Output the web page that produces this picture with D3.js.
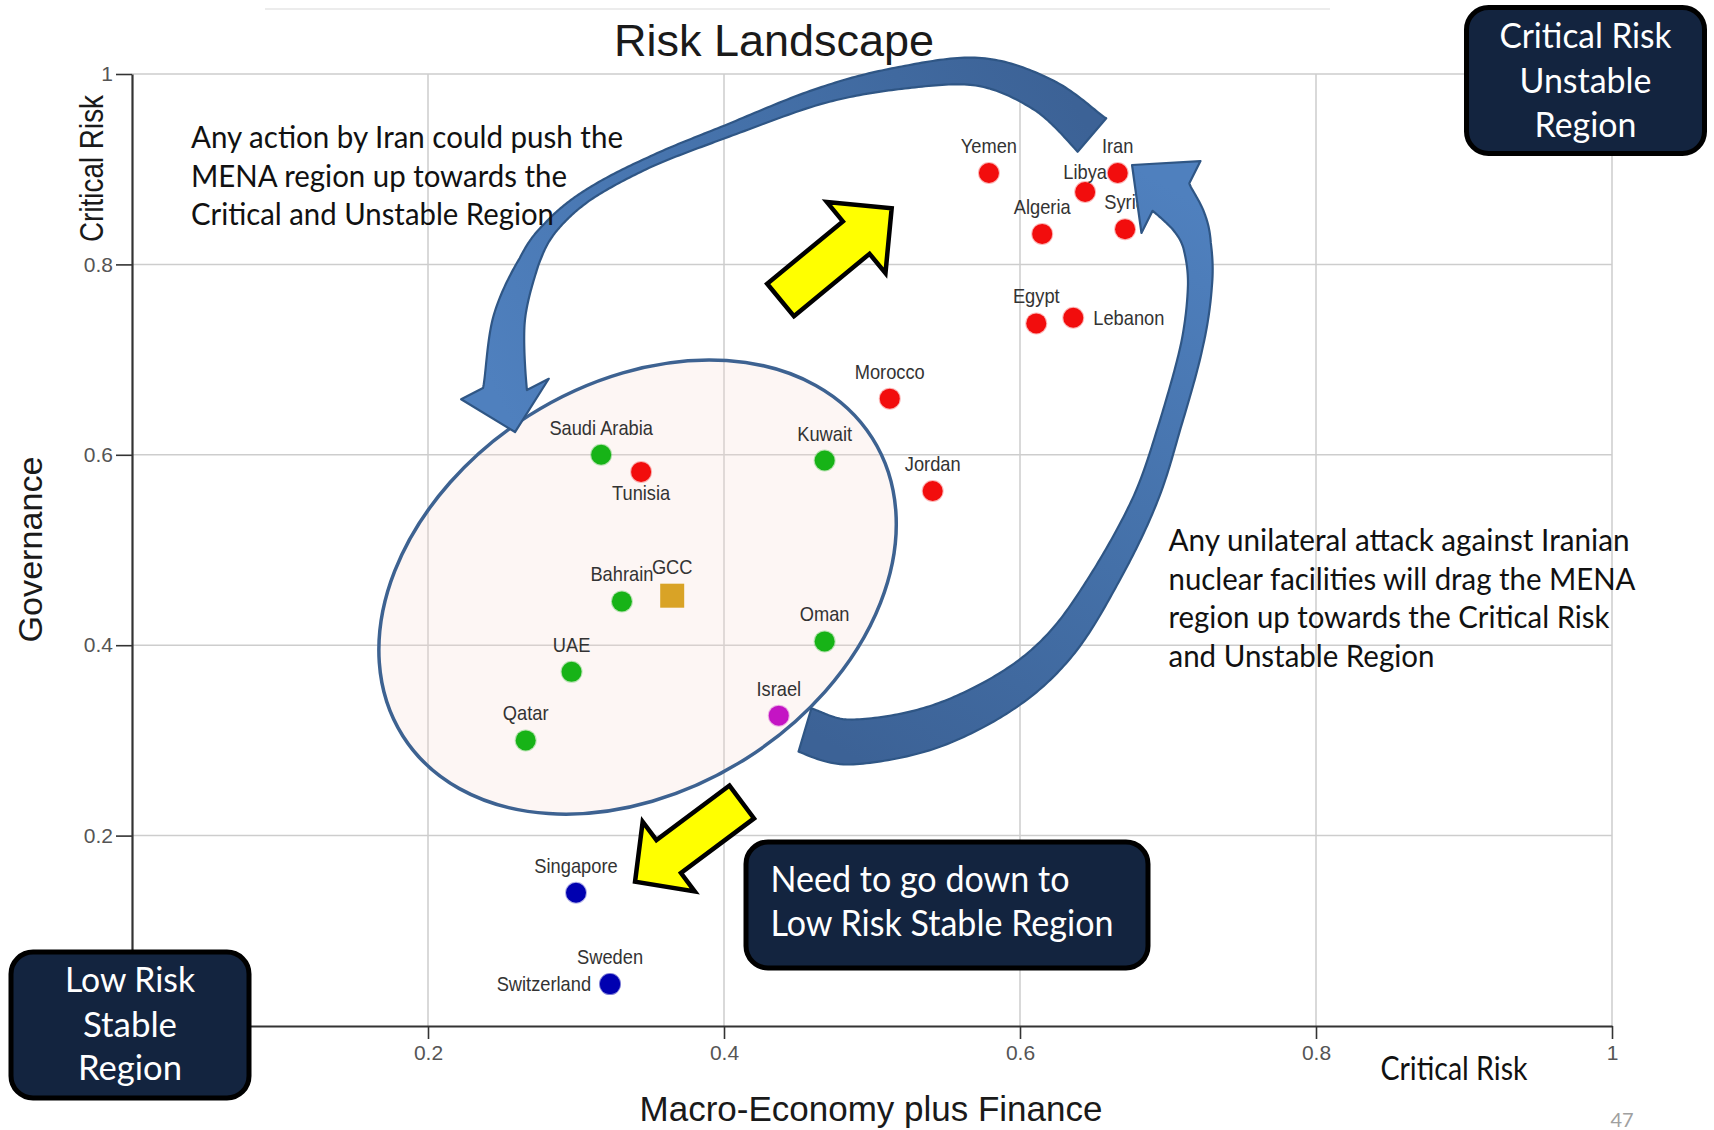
<!DOCTYPE html>
<html>
<head>
<meta charset="utf-8">
<script src="https://cdn.jsdelivr.net/npm/d3@7"></script>
<style>
  html, body { margin: 0; padding: 0; background: #ffffff; }
  svg { display: block; }
</style>
</head>
<body>
<svg id="chart" width="1714" height="1130"></svg>
<script>
// ---- Country scores: macro-economy plus finance (x) vs governance (y) ----
const countries = ["Yemen", "Iran", "Libya", "Algeria", "Syria", "Egypt", "Lebanon", "Morocco", "Jordan",
  "Tunisia", "Saudi Arabia", "Kuwait", "Bahrain", "GCC", "Oman", "UAE", "Qatar", "Israel",
  "Singapore", "Sweden", "Switzerland"];
const macroFinance = [0.579, 0.666, 0.644, 0.615, 0.671, 0.611, 0.636, 0.512, 0.541,
  0.344, 0.317, 0.468, 0.331, 0.365, 0.468, 0.297, 0.266, 0.437,
  0.300, 0.323, 0.323];
const governance = [0.896, 0.896, 0.876, 0.832, 0.837, 0.738, 0.744, 0.659, 0.562,
  0.582, 0.600, 0.594, 0.446, 0.452, 0.404, 0.372, 0.300, 0.326,
  0.140, 0.044, 0.044];
const groups = ["MENA", "MENA", "MENA", "MENA", "MENA", "MENA", "MENA", "MENA", "MENA",
  "MENA", "GCC", "GCC", "GCC", "GCC average", "GCC", "GCC", "GCC", "Israel",
  "Benchmark", "Benchmark", "Benchmark"];

const xTicks = [0.2, 0.4, 0.6, 0.8, 1];
const xTickLabels = ["0.2", "0.4", "0.6", "0.8", "1"];
const yTicks = [0.2, 0.4, 0.6, 0.8, 1];
const yTickLabels = ["0.2", "0.4", "0.6", "0.8", "1"];

// ---- Annotation geometry, in data units ----
const clusterCenter = [0.3416, 0.4611];            // GCC cluster ellipse
const escalationArc = [[0.6486, 0.9359], [0.6169, 0.9769], [0.5730, 1.0021], [0.5189, 0.9958],
  [0.4649, 0.9769], [0.4020, 0.9401], [0.3500, 0.9076], [0.3081, 0.8729], [0.2824, 0.8382],
  [0.2682, 0.8025], [0.2547, 0.7416], [0.2520, 0.6691]];
const escalationWidths = [44, 35, 28, 22, 16, 12, 10, 11, 14, 20, 32, 44];
const escalationTip = [0.2588, 0.6239];
const attackArc = [[0.4547, 0.3109], [0.4851, 0.2983], [0.5392, 0.3130], [0.5899, 0.3508],
  [0.6270, 0.4002], [0.6574, 0.4706], [0.6845, 0.5525], [0.7014, 0.6313], [0.7162, 0.7153],
  [0.7216, 0.7784], [0.7196, 0.8204], [0.7135, 0.8466], [0.7020, 0.8708]];
const attackWidths = [45, 45, 42, 38, 33, 28, 24, 22, 22, 24, 28, 36, 46];
const attackTip = [0.6757, 0.9044];
const upArrow = { tail: [0.4382, 0.7626], tip: [0.5133, 0.8589] };
const downArrow = { tail: [0.4120, 0.2353], tip: [0.3399, 0.1516] };

// ---- Scales ----
const x = d3.scaleLinear().domain([0, 1]).range([132, 1612]);
const y = d3.scaleLinear().domain([0, 1]).range([1026, 74]);

const groupColor = {
  "MENA": "#f20d0d",
  "GCC": "#17b317",
  "GCC average": "#d9a326",
  "Israel": "#c414c4",
  "Benchmark": "#0000b0"
};

const svg = d3.select("#chart");
const defs = svg.append("defs");

svg.append("rect").attr("width", 1714).attr("height", 1130).attr("fill", "#ffffff");

// faint rule left at the top of the slide
svg.append("line").attr("x1", 265).attr("x2", 1330).attr("y1", 9).attr("y2", 9)
  .attr("stroke", "#ececec").attr("stroke-width", 2);

// ---- Gridlines ----
const grid = svg.append("g").attr("stroke", "#cdcdcd").attr("stroke-width", 1.5);
grid.selectAll("line.v").data(xTicks).join("line").attr("class", "v")
  .attr("x1", d => x(d)).attr("x2", d => x(d)).attr("y1", y(0)).attr("y2", y(1));
grid.selectAll("line.h").data(yTicks).join("line").attr("class", "h")
  .attr("x1", x(0)).attr("x2", x(1)).attr("y1", d => y(d)).attr("y2", d => y(d));

// ---- Axes ----
const fontSans = "'Liberation Sans', Arial, sans-serif";
const xAxis = svg.append("g").attr("transform", `translate(0,${y(0)})`)
  .call(d3.axisBottom(x).tickValues(xTicks).tickSize(13).tickSizeOuter(0).tickPadding(6)
    .tickFormat((d, i) => xTickLabels[i]));
const yAxis = svg.append("g").attr("transform", `translate(${x(0)},0)`)
  .call(d3.axisLeft(y).tickValues(yTicks).tickSize(16).tickSizeOuter(0).tickPadding(3)
    .tickFormat((d, i) => yTickLabels[i]));
[xAxis, yAxis].forEach(a => {
  a.select(".domain").attr("stroke", "#333").attr("stroke-width", 2.2);
  a.selectAll(".tick line").attr("stroke", "#333").attr("stroke-width", 1.6);
  a.selectAll(".tick text").attr("fill", "#555").style("font-family", fontSans).style("font-size", "21px");
});

// ---- GCC cluster ellipse ----
svg.append("ellipse")
  .attr("transform", `translate(${x(clusterCenter[0])},${y(clusterCenter[1])}) rotate(-32.4)`)
  .attr("rx", 278).attr("ry", 203)
  .attr("fill", "#f6ddd4").attr("fill-opacity", 0.25)
  .attr("stroke", "#3d6291").attr("stroke-width", 3.5);

// ---- Points ----
const rows = countries.map((name, i) => ({
  name, mx: macroFinance[i], gv: governance[i], group: groups[i]
}));
const R = 10, SQ = 12;
const marks = svg.append("g");
marks.selectAll("circle").data(rows.filter(d => d.group !== "GCC average")).join("circle")
  .attr("cx", d => x(d.mx)).attr("cy", d => y(d.gv)).attr("r", R)
  .attr("fill", d => groupColor[d.group])
  .attr("stroke", d => groupColor[d.group]).attr("stroke-opacity", 0.3).attr("stroke-width", 2);
marks.selectAll("rect").data(rows.filter(d => d.group === "GCC average")).join("rect")
  .attr("x", d => x(d.mx) - SQ).attr("y", d => y(d.gv) - SQ)
  .attr("width", 2 * SQ).attr("height", 2 * SQ)
  .attr("fill", d => groupColor[d.group]);

// ---- Point labels ----
const labelSide = { "Tunisia": "below", "Lebanon": "right", "Switzerland": "left" };
const tightAbove = new Set(["Libya"]);
svg.append("g").selectAll("text").data(rows).join("text")
  .attr("transform", d => {
    const px = x(d.mx), py = y(d.gv);
    const half = d.group === "GCC average" ? SQ : R;
    const side = labelSide[d.name] || "above";
    let lx = px, ly = py - (half + 10) + (tightAbove.has(d.name) ? 7 : 0);
    if (side === "below") ly = py + half + 18;
    if (side === "right") { lx = px + half + 10; ly = py + 7.5; }
    if (side === "left") { lx = px - half - 9; ly = py + 7; }
    return `translate(${lx},${ly}) scale(0.87,1)`;
  })
  .attr("text-anchor", d => {
    const side = labelSide[d.name];
    return side === "right" ? "start" : side === "left" ? "end" : "middle";
  })
  .style("font-family", fontSans).style("font-size", "21px").attr("fill", "#333")
  .text(d => d.name);

// ---- Curved blue arrows ----
function ribbonArrow(center, widths, tip, headW) {
  const pts = center.map((c, i) => ({ x: x(c[0]), y: y(c[1]), w: widths[i] }));
  const S = 24, n = pts.length, samples = [];
  for (let i = 0; i < n - 1; i++) {
    const p0 = pts[Math.max(i - 1, 0)], p1 = pts[i], p2 = pts[i + 1], p3 = pts[Math.min(i + 2, n - 1)];
    for (let s = 0; s < S; s++) {
      const t = s / S, t2 = t * t, t3 = t2 * t;
      const cr = (a, b, c, d) => 0.5 * (2 * b + (-a + c) * t + (2 * a - 5 * b + 4 * c - d) * t2 + (-a + 3 * b - 3 * c + d) * t3);
      samples.push({ x: cr(p0.x, p1.x, p2.x, p3.x), y: cr(p0.y, p1.y, p2.y, p3.y), w: p1.w + (p2.w - p1.w) * t });
    }
  }
  samples.push(Object.assign({}, pts[n - 1]));
  const left = [], right = [];
  samples.forEach((p, i) => {
    const a = samples[Math.max(i - 1, 0)], b = samples[Math.min(i + 1, samples.length - 1)];
    let tx = b.x - a.x, ty = b.y - a.y;
    const L = Math.hypot(tx, ty) || 1; tx /= L; ty /= L;
    const nx = -ty, ny = tx;
    left.push([p.x + nx * p.w / 2, p.y + ny * p.w / 2]);
    right.push([p.x - nx * p.w / 2, p.y - ny * p.w / 2]);
  });
  const E = samples[samples.length - 1];
  const T = [x(tip[0]), y(tip[1])];
  let dx = T[0] - E.x, dy = T[1] - E.y;
  const D = Math.hypot(dx, dy); dx /= D; dy /= D;
  const hx = -dy, hy = dx;
  const outline = [...left,
    [E.x + hx * headW / 2, E.y + hy * headW / 2], T, [E.x - hx * headW / 2, E.y - hy * headW / 2],
    ...right.reverse()];
  return { d: d3.line()(outline) + "Z", start: pts[0], end: T };
}

function blueGradient(id, a, b) {
  const g = defs.append("linearGradient").attr("id", id).attr("gradientUnits", "userSpaceOnUse")
    .attr("x1", a.x).attr("y1", a.y).attr("x2", b[0]).attr("y2", b[1]);
  g.append("stop").attr("offset", 0).attr("stop-color", "#3c6296");
  g.append("stop").attr("offset", 0.45).attr("stop-color", "#4470a8");
  g.append("stop").attr("offset", 1).attr("stop-color", "#4f80be");
}

const escalation = ribbonArrow(escalationArc, escalationWidths, escalationTip, 90);
const attack = ribbonArrow(attackArc, attackWidths, attackTip, 93);
blueGradient("gradEscalation", escalation.start, escalation.end);
blueGradient("gradAttack", attack.start, attack.end);
svg.append("path").attr("d", escalation.d).attr("fill", "url(#gradEscalation)")
  .attr("stroke", "#2f5685").attr("stroke-width", 2.2).attr("stroke-linejoin", "round");
svg.append("path").attr("d", attack.d).attr("fill", "url(#gradAttack)")
  .attr("stroke", "#2f5685").attr("stroke-width", 2.2).attr("stroke-linejoin", "round");

// ---- Straight yellow arrows ----
function blockArrow(spec, shaftW, headW, headL) {
  const A = [x(spec.tail[0]), y(spec.tail[1])], B = [x(spec.tip[0]), y(spec.tip[1])];
  let dx = B[0] - A[0], dy = B[1] - A[1];
  const L = Math.hypot(dx, dy); dx /= L; dy /= L;
  const nx = -dy, ny = dx;
  const base = [B[0] - dx * headL, B[1] - dy * headL];
  const pts = [
    [A[0] + nx * shaftW / 2, A[1] + ny * shaftW / 2],
    [base[0] + nx * shaftW / 2, base[1] + ny * shaftW / 2],
    [base[0] + nx * headW / 2, base[1] + ny * headW / 2],
    B,
    [base[0] - nx * headW / 2, base[1] - ny * headW / 2],
    [base[0] - nx * shaftW / 2, base[1] - ny * shaftW / 2],
    [A[0] - nx * shaftW / 2, A[1] - ny * shaftW / 2]
  ];
  return d3.line()(pts) + "Z";
}
[blockArrow(upArrow, 42, 92, 46), blockArrow(downArrow, 41, 87, 42)].forEach(d => {
  svg.append("path").attr("d", d).attr("fill", "#ffff00")
    .attr("stroke", "#000").attr("stroke-width", 4.5).attr("stroke-linejoin", "miter");
});

// ---- Text helpers ----
const fontCond = "Lato, 'Open Sans', sans-serif";
function textLines(g, lines, opts) {
  lines.forEach(l => {
    g.append("text")
      .attr("x", opts.x).attr("y", l.y)
      .attr("text-anchor", opts.anchor || "start")
      .attr("textLength", l.w).attr("lengthAdjust", "spacingAndGlyphs")
      .style("font-family", fontCond).style("font-size", opts.size + "px")
      .attr("fill", opts.fill)
      .text(l.t);
  });
}

// ---- Region boxes ----
function regionBox(bx, by, bw, bh) {
  svg.append("rect").attr("x", bx).attr("y", by).attr("width", bw).attr("height", bh)
    .attr("rx", 22).attr("ry", 22)
    .attr("fill", "#13243f").attr("stroke", "#000").attr("stroke-width", 5);
}
regionBox(1466.5, 7.5, 238, 146);
textLines(svg.append("g"), [
  { t: "Critical Risk", y: 48, w: 172 },
  { t: "Unstable", y: 92.5, w: 132 },
  { t: "Region", y: 136.5, w: 102 }
], { x: 1585.5, anchor: "middle", size: 35, fill: "#ffffff" });

regionBox(11, 952, 238, 146);
textLines(svg.append("g"), [
  { t: "Low Risk", y: 991.5, w: 130 },
  { t: "Stable", y: 1036.5, w: 94 },
  { t: "Region", y: 1080, w: 104 }
], { x: 130, anchor: "middle", size: 35, fill: "#ffffff" });

regionBox(746, 842, 402, 126);
textLines(svg.append("g"), [
  { t: "Need to go down to", y: 892, w: 299 },
  { t: "Low Risk Stable Region", y: 935.5, w: 343 }
], { x: 770.5, anchor: "start", size: 36, fill: "#ffffff" });

// ---- Commentary ----
textLines(svg.append("g"), [
  { t: "Any action by Iran could push the", y: 148, w: 432 },
  { t: "MENA region up towards the", y: 186.5, w: 376 },
  { t: "Critical and Unstable Region", y: 224.5, w: 363 }
], { x: 191, size: 30, fill: "#111" });

textLines(svg.append("g"), [
  { t: "Any unilateral attack against Iranian", y: 551, w: 461 },
  { t: "nuclear facilities will drag the MENA", y: 589.5, w: 467 },
  { t: "region up towards the Critical Risk", y: 628, w: 441 },
  { t: "and Unstable Region", y: 666.5, w: 266 }
], { x: 1168.5, size: 30, fill: "#111" });

textLines(svg.append("g"), [
  { t: "Critical Risk", y: 1079.5, w: 147 }
], { x: 1380.5, size: 32, fill: "#111" });

// ---- Titles ----
svg.append("text").attr("x", 774).attr("y", 56).attr("text-anchor", "middle")
  .style("font-family", fontSans).style("font-size", "45px").attr("fill", "#1a1a1a")
  .text("Risk Landscape");

svg.append("text").attr("x", 871).attr("y", 1121).attr("text-anchor", "middle")
  .style("font-family", fontSans).style("font-size", "35px").attr("fill", "#1a1a1a")
  .text("Macro-Economy plus Finance");

svg.append("text").attr("transform", "translate(103,168.5) rotate(-90)")
  .attr("text-anchor", "middle").attr("textLength", 147).attr("lengthAdjust", "spacingAndGlyphs")
  .style("font-family", fontSans).style("font-size", "33px").attr("fill", "#1a1a1a")
  .text("Critical Risk");

svg.append("text").attr("transform", "translate(42,549.5) rotate(-90)")
  .attr("text-anchor", "middle").attr("textLength", 186).attr("lengthAdjust", "spacingAndGlyphs")
  .style("font-family", fontSans).style("font-size", "34px").attr("fill", "#1a1a1a")
  .text("Governance");

// slide number
svg.append("text").attr("x", 1622).attr("y", 1127).attr("text-anchor", "middle")
  .style("font-family", fontCond).style("font-size", "20px").attr("fill", "#a0a0a0")
  .text("47");
</script>
</body>
</html>
